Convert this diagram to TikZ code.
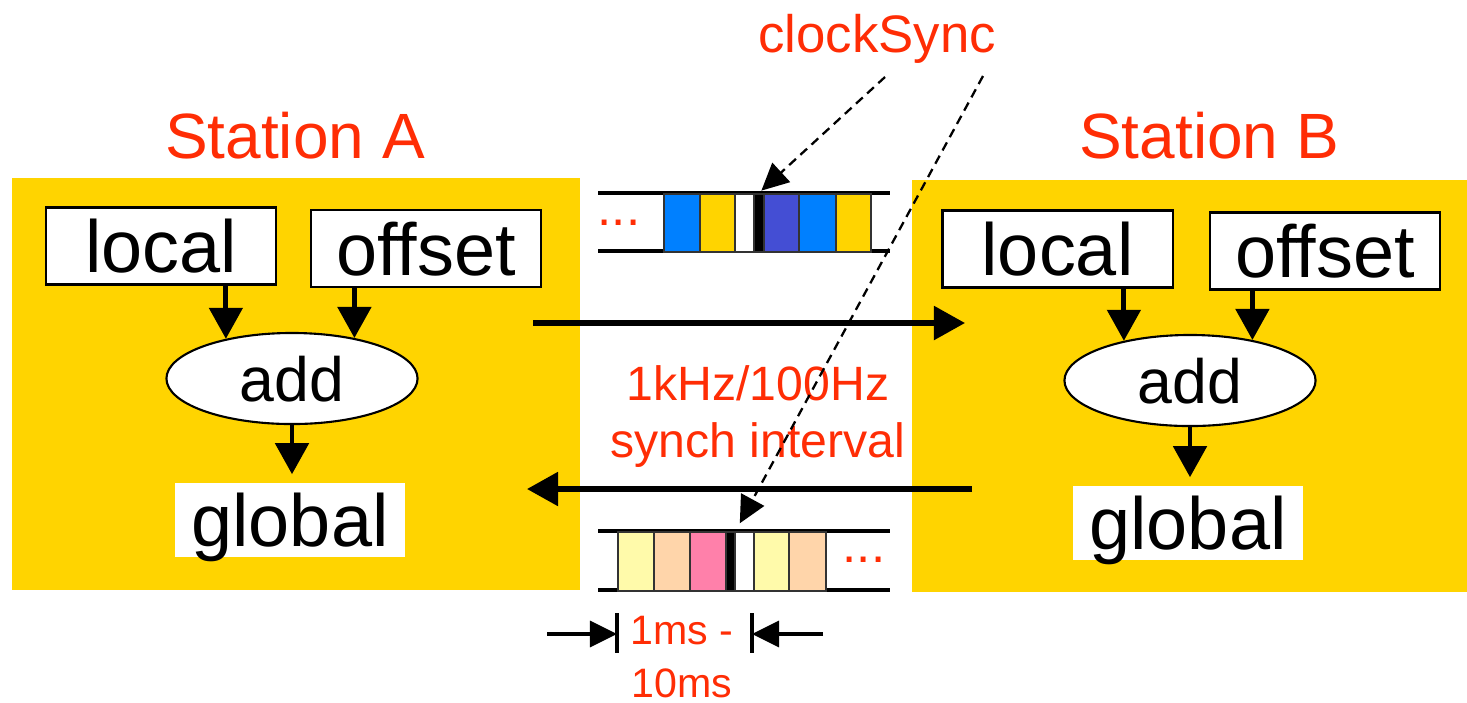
\documentclass[tikz,border=0pt]{standalone}
\usepackage{fontspec}
\setmainfont{Liberation Sans}
\usetikzlibrary{arrows.meta,shapes.geometric,calc}

\definecolor{slideyellow}{RGB}{255,212,0}
\definecolor{labelred}{RGB}{255,45,5}
\definecolor{cellblue}{RGB}{0,128,255}
\definecolor{cellindigo}{RGB}{68,78,212}
\definecolor{cellcream}{RGB}{255,250,170}
\definecolor{cellpeach}{RGB}{255,213,170}
\definecolor{cellpink}{RGB}{255,128,170}

\begin{document}
\begin{tikzpicture}[x=0.01cm,y=-0.01cm,
  panel/.style={fill=slideyellow,draw=none},
  title/.style={text=labelred,font=\fontsize{18.2}{22}\selectfont,anchor=base,inner sep=0pt},
  note/.style={text=labelred,align=center,inner sep=0pt},
  word/.style={draw=black,line width=0.6pt,fill=white,font=\fontsize{21}{25}\selectfont,
    text height=0.53cm,text depth=0pt,inner sep=0pt,minimum height=0.77cm,minimum width=2.3cm},
  sum/.style={ellipse,draw=black,line width=0.6pt,fill=white,font=\fontsize{17.8}{21}\selectfont,
    text height=0.45cm,text depth=0pt,inner sep=0pt,minimum width=2.51cm,minimum height=0.91cm},
  result/.style={fill=white,font=\fontsize{21}{25}\selectfont,text height=0.53cm,text depth=0pt,
    inner sep=0pt,minimum width=2.3cm,minimum height=0.74cm},
  flow/.style={line width=1.4pt,-{Triangle[length=0.31cm,width=0.33cm]}},
  link/.style={line width=1.5pt,-{Triangle[length=0.31cm,width=0.33cm]}},
  hint/.style={line width=0.65pt,dash pattern=on 2.6pt off 1.7pt,
    -{Triangle[length=0.27cm,width=0.26cm]}},
  rail/.style={line width=0.9pt},
  cell/.style={draw=black!80,line width=0.45pt,inner sep=0pt,anchor=north west},
  topcell/.style={cell,minimum height=0.58cm},
  botcell/.style={cell,minimum height=0.59cm},
  tick/.style={line width=0.9pt},
  dim/.style={line width=0.9pt,-{Triangle[length=0.27cm,width=0.26cm]}}
]
\useasboundingbox (0,0) rectangle (1467,702);

% station panels
\fill[panel] (12,178) rectangle (580,590);
\fill[panel] (912,180) rectangle (1467,592);

% titles
\node[title] (staA) at (295,158) {Station A};
\node[title] (staB) at (1209,158) {Station B};
\node[title,font=\fontsize{15}{18}\selectfont] (clk) at (877,52) {clockSync};

% station A
\node[word] (localA) at (161,246) {local};
\node[word] (offA) at (426,248.5) {offset};
\node[sum] (addA) at (292,378.5) {add};
\node[result] (globA) at (290,520) {global};
\draw[flow] (localA.south -| addA.149) -- (addA.149);
\draw[flow] (offA.south -| addA.33) -- (addA.33);
\draw[flow,shorten >=2.3pt] (addA.south) -- (addA.south |- globA.north);

% station B
\node[word] (localB) at (1057.5,249) {local};
\node[word] (offB) at (1325,251) {offset};
\node[sum] (addB) at (1190,380.5) {add};
\node[result] (globB) at (1188,523) {global};
\draw[flow] (localB.south -| addB.149) -- (addB.149);
\draw[flow] (offB.south -| addB.33) -- (addB.33);
\draw[flow,shorten >=2.3pt] (addB.south) -- (addB.south |- globB.north);

% links between the stations
\coordinate (abFrom) at (533,323);
\coordinate (abTo) at (965,323);
\coordinate (baFrom) at (972,489);
\coordinate (baTo) at (527,489);
\draw[link] (abFrom) -- (abTo);
\draw[link] (baFrom) -- (baTo);

% outgoing frame stream
\draw[rail] (598,193) -- (890,193);
\draw[rail] (598,251) -- (890,251);
\node[topcell,fill=cellblue,minimum width=0.36cm] (t1) at (663,193) {};
\node[topcell,fill=slideyellow,minimum width=0.35cm] (t2) at (699,193) {};
\node[topcell,fill=white,minimum width=0.19cm] (t3) at (734,193) {};
\node[topcell,fill=black,minimum width=0.10cm] (barT) at (753,193) {};
\node[topcell,fill=cellindigo,minimum width=0.35cm] (t5) at (763,193) {};
\node[topcell,fill=cellblue,minimum width=0.37cm] (t6) at (798,193) {};
\node[topcell,fill=slideyellow,minimum width=0.35cm] (t7) at (835,193) {};
\node[title,font=\fontsize{14.5}{16}\selectfont] (dotsT) at (619,225) {...};

% returning frame stream
\draw[rail] (598,531) -- (890,531);
\draw[rail] (598,590) -- (890,590);
\node[botcell,fill=cellcream,minimum width=0.36cm] (b1) at (617,531) {};
\node[botcell,fill=cellpeach,minimum width=0.36cm] (b2) at (653,531) {};
\node[botcell,fill=cellpink,minimum width=0.36cm] (b3) at (689,531) {};
\node[botcell,fill=black,minimum width=0.09cm] (barB) at (725,531) {};
\node[botcell,fill=white,minimum width=0.19cm] (b5) at (734,531) {};
\node[botcell,fill=cellcream,minimum width=0.35cm] (b6) at (753,531) {};
\node[botcell,fill=cellpeach,minimum width=0.37cm] (b7) at (788,531) {};
\node[title,font=\fontsize{14.5}{16}\selectfont] (dotsB) at (864,562) {...};

% interval labels
\node[note,font=\fontsize{13.7}{16.2}\selectfont] (rate) at (758,417) {1kHz/100Hz\\synch interval};
\node[note,font=\fontsize{11.7}{15}\selectfont] (period) at (682,657) {1ms -\\10ms};

% period dimension
\coordinate (dl) at (617,634);
\coordinate (dr) at (752,634);
\coordinate (dlFrom) at (547,634);
\coordinate (drFrom) at (823,634);
\draw[tick] ($(dl)+(0,-21)$) -- ($(dl)+(0,19)$);
\draw[tick] ($(dr)+(0,-21)$) -- ($(dr)+(0,19)$);
\draw[dim] (dlFrom) -- (dl);
\draw[dim] (drFrom) -- (dr);

% clockSync pointers
\coordinate (cs1) at (885,77);
\coordinate (cs2) at (983,76);
\draw[hint,shorten >=1pt] (cs1) -- (barT.north);
\draw[hint,shorten >=2.5pt] (cs2) -- (barB.north east);
\end{tikzpicture}
\end{document}
